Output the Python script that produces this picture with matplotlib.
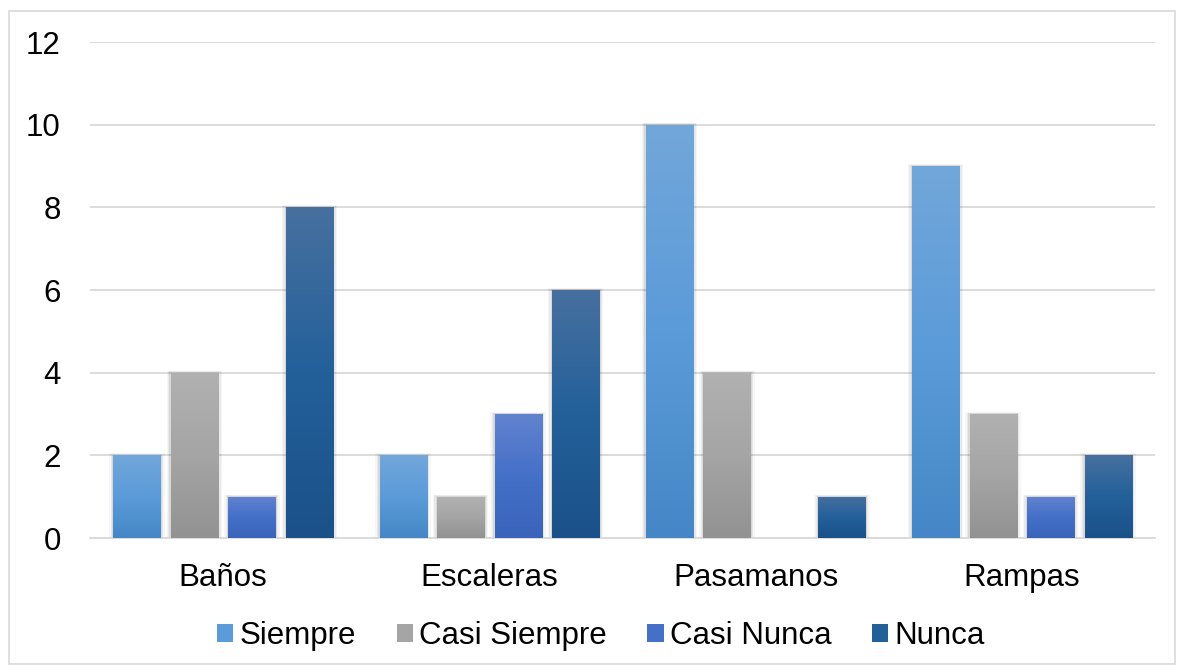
import numpy as np
import matplotlib.pyplot as plt
from matplotlib.colors import LinearSegmentedColormap
from matplotlib.patches import Rectangle, Patch

plt.rcParams['font.family'] = ['Liberation Sans', 'DejaVu Sans']

categorias = ['Baños', 'Escaleras', 'Pasamanos', 'Rampas']
series = ['Siempre', 'Casi Siempre', 'Casi Nunca', 'Nunca']
siempre = [2, 2, 10, 9]
casi_siempre = [4, 1, 4, 3]
casi_nunca = [1, 3, 0, 1]
nunca = [8, 6, 1, 2]
valores = [siempre, casi_siempre, casi_nunca, nunca]

# top, middle, bottom colour of each gradient fill
gradientes = [
    ('#72a7da', '#5b9bd9', '#4587c6'),
    ('#b1b1b1', '#a5a5a5', '#929292'),
    ('#6283cf', '#4470c8', '#3a64ba'),
    ('#47709f', '#23609a', '#1b5189'),
]

fig = plt.figure(figsize=(11.83, 6.71), dpi=100)
ax = fig.add_axes([0.0761, 0.1982, 0.9002, 0.7392])

fig.patches.append(Rectangle((9 / 1183, 1 - 664 / 671), 1166 / 1183, 653 / 671,
                             transform=fig.transFigure, fill=False,
                             edgecolor='#d9d9d9', linewidth=1.2, zorder=0))

x = np.arange(len(categorias))
ancho = 0.177
paso = 0.216

for i, (vals, cols) in enumerate(zip(valores, gradientes)):
    cmap = LinearSegmentedColormap.from_list(series[i], list(cols[::-1]))
    grad = np.linspace(0, 1, 256).reshape(-1, 1)
    bars = ax.bar(x + (i - 1.5) * paso, vals, ancho, color=cols[1], zorder=3)
    for b in bars:
        h = b.get_height()
        if h <= 0:
            continue
        bx, bw = b.get_x(), b.get_width()
        # soft shadow around the sides of the bar
        for k, a in zip([0.016, 0.010, 0.005], [0.035, 0.05, 0.07]):
            ax.add_patch(Rectangle((bx - k, 0), bw + 2 * k, h + k * 3,
                                   facecolor='black', alpha=a, linewidth=0, zorder=2))
        b.set_facecolor('none')
        im = ax.imshow(grad, cmap=cmap, origin='lower', aspect='auto',
                       extent=(bx, bx + bw, 0, h), zorder=3)
        im.set_clip_path(b)

ax.set_xlim(-0.5, 3.5)
ax.set_ylim(0, 12)
ax.set_yticks(range(0, 13, 2))
ax.set_xticks(x)
ax.set_xticklabels(categorias)
ax.tick_params(axis='both', length=0, labelsize=22.5, colors='black')
ax.tick_params(axis='y', pad=21)
ax.tick_params(axis='x', pad=18)
ax.grid(axis='y', color='#d9d9d9', linewidth=1.3, zorder=0)
ax.set_axisbelow(True)
for s in ['top', 'right', 'left']:
    ax.spines[s].set_visible(False)
ax.spines['bottom'].set_color('#d9d9d9')
ax.spines['bottom'].set_linewidth(1.3)

handles = [Patch(facecolor=c[1], edgecolor='none') for c in gradientes]
fig.legend(handles, series, loc='center', bbox_to_anchor=(0.508, 0.052), ncol=4,
           frameon=False, fontsize=22.5, handlelength=0.52, handleheight=0.52,
           handletextpad=0.2, columnspacing=1.3, borderaxespad=0)

fig.savefig('out.png', dpi=100)
